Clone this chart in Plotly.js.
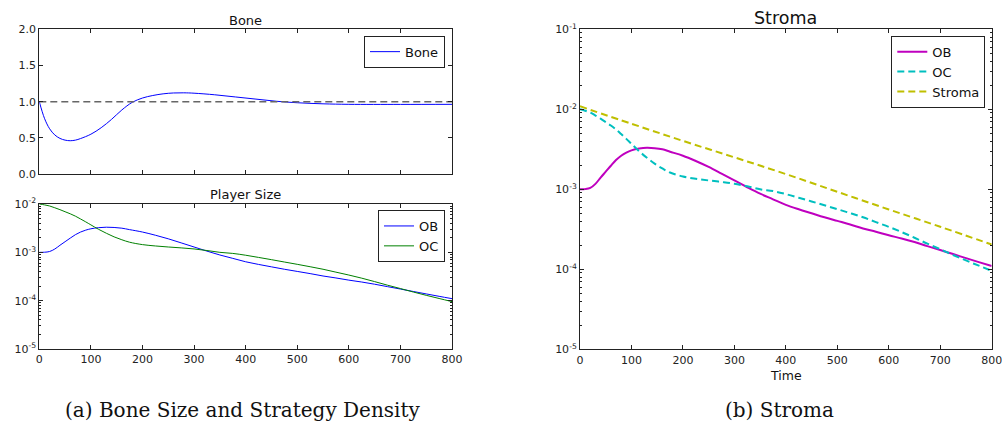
<!DOCTYPE html>
<html><head><meta charset="utf-8">
<script src="https://cdn.plot.ly/plotly-3.0.1.min.js"></script>
<style>html,body{margin:0;padding:0;background:#fff}#chart{width:1002px;height:425px}</style>
</head><body><div id="chart"></div>
<script>
// ---- data ----
const boneT = [0,10,20,30,40,50,60,70,80,100,120,140,160,180,200,220,240,260,280,300,340,380,420,460,500,550,600,700,800];
const boneV = [1.0,0.77,0.625,0.54,0.492,0.468,0.46,0.468,0.49,0.55,0.64,0.755,0.885,0.99,1.05,1.085,1.108,1.12,1.122,1.117,1.095,1.065,1.035,1.005,0.985,0.97,0.963,0.962,0.963];
const refT = [0,800];
const refV = [1.0,1.0];

const cellT = [0,10,20,30,40,50,60,70,80,90,100,115,130,145,160,175,200,225,250,275,300,325,350,375,400,425,450,475,500,525,550,575,600,625,650,675,700,725,750,775,800];
const obV = [1.0e-3,1.005e-3,1.04e-3,1.17e-3,1.40e-3,1.66e-3,1.97e-3,2.32e-3,2.63e-3,2.88e-3,3.07e-3,3.24e-3,3.31e-3,3.27e-3,3.16e-3,2.95e-3,2.63e-3,2.26e-3,1.905e-3,1.57e-3,1.29e-3,1.06e-3,8.81e-4,7.5e-4,6.38e-4,5.62e-4,5.01e-4,4.47e-4,4.03e-4,3.63e-4,3.24e-4,2.95e-4,2.66e-4,2.43e-4,2.19e-4,1.95e-4,1.74e-4,1.55e-4,1.38e-4,1.23e-4,1.10e-4];
const ocV = [1.0e-2,9.6e-3,9.1e-3,8.36e-3,7.64e-3,6.92e-3,6.27e-3,5.6e-3,4.9e-3,4.27e-3,3.7e-3,2.99e-3,2.48e-3,2.09e-3,1.82e-3,1.62e-3,1.445e-3,1.355e-3,1.29e-3,1.236e-3,1.175e-3,1.09e-3,1.0e-3,9.5e-4,8.71e-4,7.85e-4,7.05e-4,6.31e-4,5.65e-4,5.04e-4,4.47e-4,3.89e-4,3.39e-4,2.92e-4,2.48e-4,2.09e-4,1.78e-4,1.51e-4,1.29e-4,1.11e-4,9.55e-5];

const stromaT = [0,100,200,300,400,500,600,700,800];
const stromaV = [1.09e-2,6.6e-3,4.03e-3,2.51e-3,1.55e-3,9.3e-4,5.6e-4,3.4e-4,2.04e-4];

const xTicks = [0,100,200,300,400,500,600,700,800];
const boneTicks = [0,0.5,1.0,1.5,2.0];
const logTicks2 = [1e-5,1e-4,1e-3,1e-2];
const logText2 = ['10<sup>-5</sup>','10<sup>-4</sup>','10<sup>-3</sup>','10<sup>-2</sup>'];
const logTicks3 = [1e-5,1e-4,1e-3,1e-2,1e-1];
const logText3 = ['10<sup>-5</sup>','10<sup>-4</sup>','10<sup>-3</sup>','10<sup>-2</sup>','10<sup>-1</sup>'];

// minor tick positions (2..9 within each decade)
function minorVals(decades) {
  const out = [];
  decades.slice(0, -1).forEach(d => { for (let k = 2; k <= 9; k++) out.push(d * k); });
  return out;
}

// ---- styling ----
const FONT = 'DejaVu Sans, sans-serif';
const tickFont = {family: FONT, size: 11, color: '#222'};
function baseAxis(extra) {
  return Object.assign({
    showline: true, linecolor: '#222', linewidth: 1, mirror: 'ticks',
    ticks: 'inside', ticklen: 4, tickcolor: '#222', tickwidth: 1,
    showgrid: false, zeroline: false, tickfont: tickFont, fixedrange: true,
    ticklabeloverflow: 'allow'
  }, extra);
}
function minorLog(decades) {
  return {tickmode: 'array', tickvals: minorVals(decades), ticks: 'inside', ticklen: 2, tickcolor: '#222', tickwidth: 1, showgrid: false};
}

const traces = [
  {x: boneT, y: boneV, name: 'Bone', mode: 'lines', line: {color: '#0000ff', width: 1, shape: 'spline', smoothing: 1},
   xaxis: 'x', yaxis: 'y', legend: 'legend'},
  {x: refT, y: refV, mode: 'lines', showlegend: false, line: {color: '#666666', width: 1.5, dash: '7px,4px'},
   xaxis: 'x', yaxis: 'y'},
  {x: cellT, y: obV, name: 'OB', mode: 'lines', line: {color: '#0000ff', width: 1, shape: 'spline', smoothing: 1},
   xaxis: 'x2', yaxis: 'y2', legend: 'legend2'},
  {x: cellT, y: ocV, name: 'OC', mode: 'lines', line: {color: '#008000', width: 1, shape: 'spline', smoothing: 1},
   xaxis: 'x2', yaxis: 'y2', legend: 'legend2'},
  {x: cellT, y: obV, name: 'OB', mode: 'lines', line: {color: '#bf00bf', width: 2, shape: 'spline', smoothing: 1},
   xaxis: 'x3', yaxis: 'y3', legend: 'legend3'},
  {x: cellT, y: ocV, name: 'OC', mode: 'lines', line: {color: '#00bfbf', width: 2, dash: '7px,4px', shape: 'spline', smoothing: 1},
   xaxis: 'x3', yaxis: 'y3', legend: 'legend3'},
  {x: stromaT, y: stromaV, name: 'Stroma', mode: 'lines', line: {color: '#bfbf00', width: 2, dash: '7px,4px', shape: 'spline', smoothing: 1},
   xaxis: 'x3', yaxis: 'y3', legend: 'legend3'}
];

const W = 1002, H = 425;
const px = v => v / W, py = v => 1 - v / H;
const legendBase = {bgcolor: '#fff', bordercolor: '#222', borderwidth: 1, xanchor: 'right', yanchor: 'top',
  font: {family: FONT, size: 13, color: '#111'}, tracegroupgap: 0, itemwidth: 30};
const capFont = {family: 'DejaVu Serif, serif', size: 20, color: '#111'};

const layout = {
  width: W, height: H, margin: {l: 0, r: 0, t: 0, b: 0},
  paper_bgcolor: '#fff', plot_bgcolor: '#fff', showlegend: true,
  xaxis: baseAxis({domain: [px(39.3), px(452)], range: [0, 800], tickvals: xTicks, showticklabels: false, anchor: 'y'}),
  yaxis: baseAxis({domain: [py(174), py(29.3)], range: [0, 2], tickvals: boneTicks, tickformat: '.1f', anchor: 'x'}),
  xaxis2: baseAxis({domain: [px(39.3), px(452)], range: [0, 800], tickvals: xTicks, anchor: 'y2'}),
  yaxis2: baseAxis({type: 'log', domain: [py(349), py(204)], range: [-5, -2], tickvals: logTicks2, ticktext: logText2, anchor: 'x2', minor: minorLog(logTicks2)}),
  xaxis3: baseAxis({domain: [px(580), px(991.7)], range: [0, 800], tickvals: xTicks, anchor: 'y3'}),
  yaxis3: baseAxis({type: 'log', domain: [py(349.3), py(29.3)], range: [-5, -1], tickvals: logTicks3, ticktext: logText3, anchor: 'x3', minor: minorLog(logTicks3)}),
  legend: Object.assign({}, legendBase, {x: px(445), y: py(35.7)}),
  legend2: Object.assign({}, legendBase, {x: px(445), y: py(210)}),
  legend3: Object.assign({}, legendBase, {x: px(985.3), y: py(35.7)}),
  annotations: [
    {text: 'Bone', x: px(245.6), y: py(20), xref: 'paper', yref: 'paper', showarrow: false, xanchor: 'center', yanchor: 'middle', font: {family: FONT, size: 13, color: '#111'}},
    {text: 'Player Size', x: px(245.6), y: py(194), xref: 'paper', yref: 'paper', showarrow: false, xanchor: 'center', yanchor: 'middle', font: {family: FONT, size: 13, color: '#111'}},
    {text: 'Stroma', x: px(785.9), y: py(18), xref: 'paper', yref: 'paper', showarrow: false, xanchor: 'center', yanchor: 'middle', font: {family: FONT, size: 17.5, color: '#111'}},
    {text: 'Time', x: px(785.9), y: py(375), xref: 'paper', yref: 'paper', showarrow: false, xanchor: 'center', yanchor: 'middle', font: {family: FONT, size: 12.5, color: '#111'}},
    {text: '(a) Bone Size and Strategy Density', x: px(242), y: py(410), xref: 'paper', yref: 'paper', showarrow: false, xanchor: 'center', yanchor: 'middle', font: capFont},
    {text: '(b) Stroma', x: px(779), y: py(410), xref: 'paper', yref: 'paper', showarrow: false, xanchor: 'center', yanchor: 'middle', font: capFont}
  ]
};

Plotly.newPlot('chart', traces, layout, {staticPlot: true, displayModeBar: false});
</script>
</body></html>
